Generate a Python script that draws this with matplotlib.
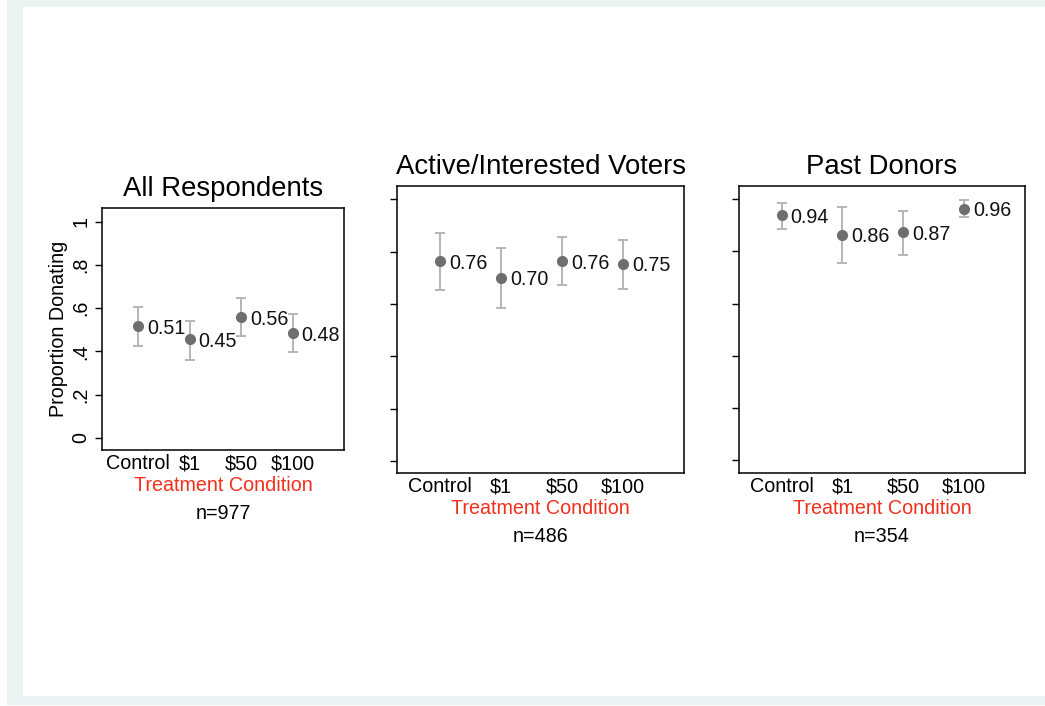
import matplotlib
matplotlib.use("Agg")
from matplotlib import pyplot as plt
from matplotlib.patches import Rectangle

plt.rcParams['font.family'] = ['Liberation Sans', 'DejaVu Sans']

# Treatment conditions (x axis)
conditions = ["Control", "$1", "$50", "$100"]

# Group titles and sample sizes
groups = ["All Respondents", "Active/Interested Voters", "Past Donors"]
sizes = [977, 486, 354]

# Proportion donating, with 95% CI bounds
all_mean = [0.518, 0.456, 0.559, 0.485]
all_lo = [0.425, 0.361, 0.470, 0.396]
all_hi = [0.606, 0.542, 0.646, 0.572]
all_lab = ["0.51", "0.45", "0.56", "0.48"]

active_mean = [0.764, 0.701, 0.764, 0.754]
active_lo = [0.655, 0.585, 0.671, 0.659]
active_hi = [0.871, 0.815, 0.855, 0.846]
active_lab = ["0.76", "0.70", "0.76", "0.75"]

donor_mean = [0.938, 0.865, 0.873, 0.964]
donor_lo = [0.887, 0.755, 0.786, 0.931]
donor_hi = [0.986, 0.969, 0.954, 0.996]
donor_lab = ["0.94", "0.86", "0.87", "0.96"]

W, H = 1045, 706
fig = plt.figure(figsize=(W / 100, H / 100), dpi=100)
fig.patch.set_facecolor("white")


def px_rect(x0, y0, x1, y1, color, z):
    # rectangle given in pixels, top-left origin
    fig.patches.append(Rectangle((x0 / W, 1 - y1 / H), (x1 - x0) / W, (y1 - y0) / H,
                                 transform=fig.transFigure, facecolor=color,
                                 edgecolor="none", zorder=z))


# light frame around the white page
px_rect(7, 0, W, 705, "#eaf3f1", -10)
px_rect(23, 7, W, 696, "white", -9)


def px_axes(x0, y0, x1, y1):
    return fig.add_axes([x0 / W, 1 - y1 / H, (x1 - x0) / W, (y1 - y0) / H])


boxes = [(102, 208, 344, 450), (397, 186, 684, 473), (739, 186, 1025, 473)]
ylims = [(-0.0555, 1.0634), (-0.046, 1.051), (-0.049, 1.051)]
means = [all_mean, active_mean, donor_mean]
los = [all_lo, active_lo, donor_lo]
his = [all_hi, active_hi, donor_hi]
labs = [all_lab, active_lab, donor_lab]

xpos = [1, 2, 3, 4]
fs = 14.2

for i in range(3):
    ax = px_axes(*boxes[i])
    ax.set_xlim(0.3, 5.0)
    ax.set_ylim(*ylims[i])
    for s in ax.spines.values():
        s.set_linewidth(1.1)
        s.set_color("black")

    m = means[i]
    yerr = [[m[k] - los[i][k] for k in range(4)], [his[i][k] - m[k] for k in range(4)]]
    ax.errorbar(xpos, m, yerr=yerr, fmt="none", ecolor="#b5b5b5",
                elinewidth=1.4, capsize=3.8, capthick=1.4, zorder=2)
    ax.plot(xpos, m, "o", color="#6e6e6e", markersize=7, zorder=3)
    for k in range(4):
        ax.annotate(labs[i][k], (xpos[k], m[k]), xytext=(6.5, -1.5),
                    textcoords="offset points", va="center", ha="left",
                    fontsize=fs, color="#111111")

    ax.set_xticks(xpos)
    ax.set_xticklabels(conditions, fontsize=fs)
    ax.tick_params(axis="x", length=0, pad=3)

    ax.set_yticks([0, 0.2, 0.4, 0.6, 0.8, 1.0])
    ax.tick_params(axis="y", length=5, width=1.0, direction="out")
    if i == 0:
        ax.set_yticklabels(["0", ".2", ".4", ".6", ".8", "1"], rotation=90,
                           va="center", fontsize=fs)
        ax.tick_params(axis="y", pad=3.5)
        ax.set_ylabel("Proportion Donating", fontsize=fs, labelpad=2.5)
    else:
        ax.set_yticklabels([])

    ax.annotate(groups[i], (0.5, 1), xycoords="axes fraction", xytext=(0, 13.8),
                textcoords="offset points", ha="center", va="center", fontsize=19.8)
    ax.annotate("Treatment Condition", (0.5, 0), xycoords="axes fraction",
                xytext=(0, -25.5), textcoords="offset points", ha="center",
                va="center", fontsize=fs, color="#f2301c")
    ax.annotate("n=%d" % sizes[i], (0.5, 0), xycoords="axes fraction",
                xytext=(0, -45.5), textcoords="offset points", ha="center",
                va="center", fontsize=fs)

fig.savefig("out.png", dpi=100)
